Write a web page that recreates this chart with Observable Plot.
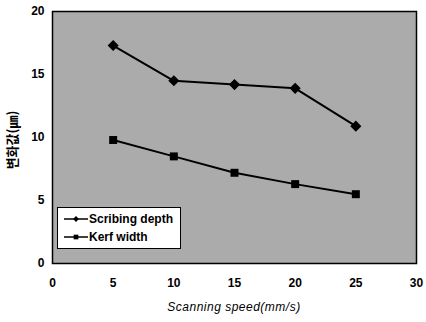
<!DOCTYPE html>
<html><head><meta charset="utf-8">
<script src="https://cdn.jsdelivr.net/npm/d3@7"></script>
<script src="https://cdn.jsdelivr.net/npm/@observablehq/plot@0.6"></script>
<style>
body{margin:0;background:#fff;}
#wrap{position:relative;width:426px;height:322px;}
#legend{position:absolute;left:57px;top:207px;width:124px;height:42px;background:#fff;border:1.5px solid #000;box-sizing:border-box;}
</style></head>
<body><div id="wrap"><div id="chart"></div><div id="legend"></div></div>
<script>
const speeds = [5, 10, 15, 20, 25];
const scribingDepth = [17.3, 14.5, 14.2, 13.9, 10.9];
const kerfWidth = [9.8, 8.5, 7.2, 6.3, 5.5];
const xTicks = [0, 5, 10, 15, 20, 25, 30];
const yTicks = [0, 5, 10, 15, 20];
const seriesNames = ["Scribing depth", "Kerf width"];

const data = [
  ...speeds.map((s, i) => ({x: s, y: scribingDepth[i], series: seriesNames[0]})),
  ...speeds.map((s, i) => ({x: s, y: kerfWidth[i], series: seriesNames[1]}))
];
const sd = data.filter(d => d.series === seriesNames[0]);
const kw = data.filter(d => d.series === seriesNames[1]);

const chart = Plot.plot({
  width: 426, height: 322,
  marginLeft: 52, marginRight: 10, marginTop: 11, marginBottom: 59,
  style: {fontFamily: "'Liberation Sans Narrow', 'Liberation Sans', Arial, sans-serif", fontSize: "12px", fontWeight: "bold", background: "#fff"},
  x: {domain: [0, 30], ticks: xTicks, tickSize: 0, tickPadding: 15, label: null},
  y: {domain: [0, 20], ticks: yTicks, tickSize: 0, tickPadding: 8, label: null},
  marks: [
    Plot.frame({fill: "#ababab", stroke: "#000", strokeWidth: 1.5}),
    Plot.line(sd, {x: "x", y: "y", stroke: "#000", strokeWidth: 2}),
    Plot.line(kw, {x: "x", y: "y", stroke: "#000", strokeWidth: 2}),
    Plot.dot(sd, {x: "x", y: "y", symbol: "diamond2", r: 5, fill: "#000"}),
    Plot.dot(kw, {x: "x", y: "y", symbol: "square", r: 4.5, fill: "#000"}),
    Plot.axisX({ticks: xTicks, tickSize: 0, tickPadding: 15, label: null}),
    Plot.axisY({ticks: yTicks, tickSize: 0, tickPadding: 8, label: null})
  ]
});
document.getElementById("chart").appendChild(chart);

const svg = d3.select(chart);
svg.append("text").attr("x", 234).attr("y", 311).attr("text-anchor", "middle")
  .style("font", "italic 12px 'Liberation Sans', Arial, sans-serif").style("letter-spacing","0.5px")
  .text("Scanning speed(mm/s)");
svg.append("text").attr("transform", "translate(17,140) rotate(-90)").attr("text-anchor", "middle")
  .style("font", "bold 13px 'Noto Sans CJK KR', sans-serif")
  .text("변화값(㎛)");

// legend
const lg = d3.select("#legend").append("svg").attr("width", 122).attr("height", 40);
const syms = [d3.symbolDiamond2, d3.symbolSquare];
seriesNames.forEach((n, i) => {
  const y = 11 + i * 18;
  lg.append("line").attr("x1", 6).attr("x2", 30).attr("y1", y).attr("y2", y).attr("stroke", "#000").attr("stroke-width", 1.5);
  lg.append("path").attr("d", d3.symbol(syms[i], 22)()).attr("transform", `translate(18,${y})`).attr("fill", "#000");
  lg.append("text").attr("x", 31).attr("y", y + 4).style("font", "bold 12px 'Liberation Sans', Arial, sans-serif").text(n);
});
</script></body></html>
